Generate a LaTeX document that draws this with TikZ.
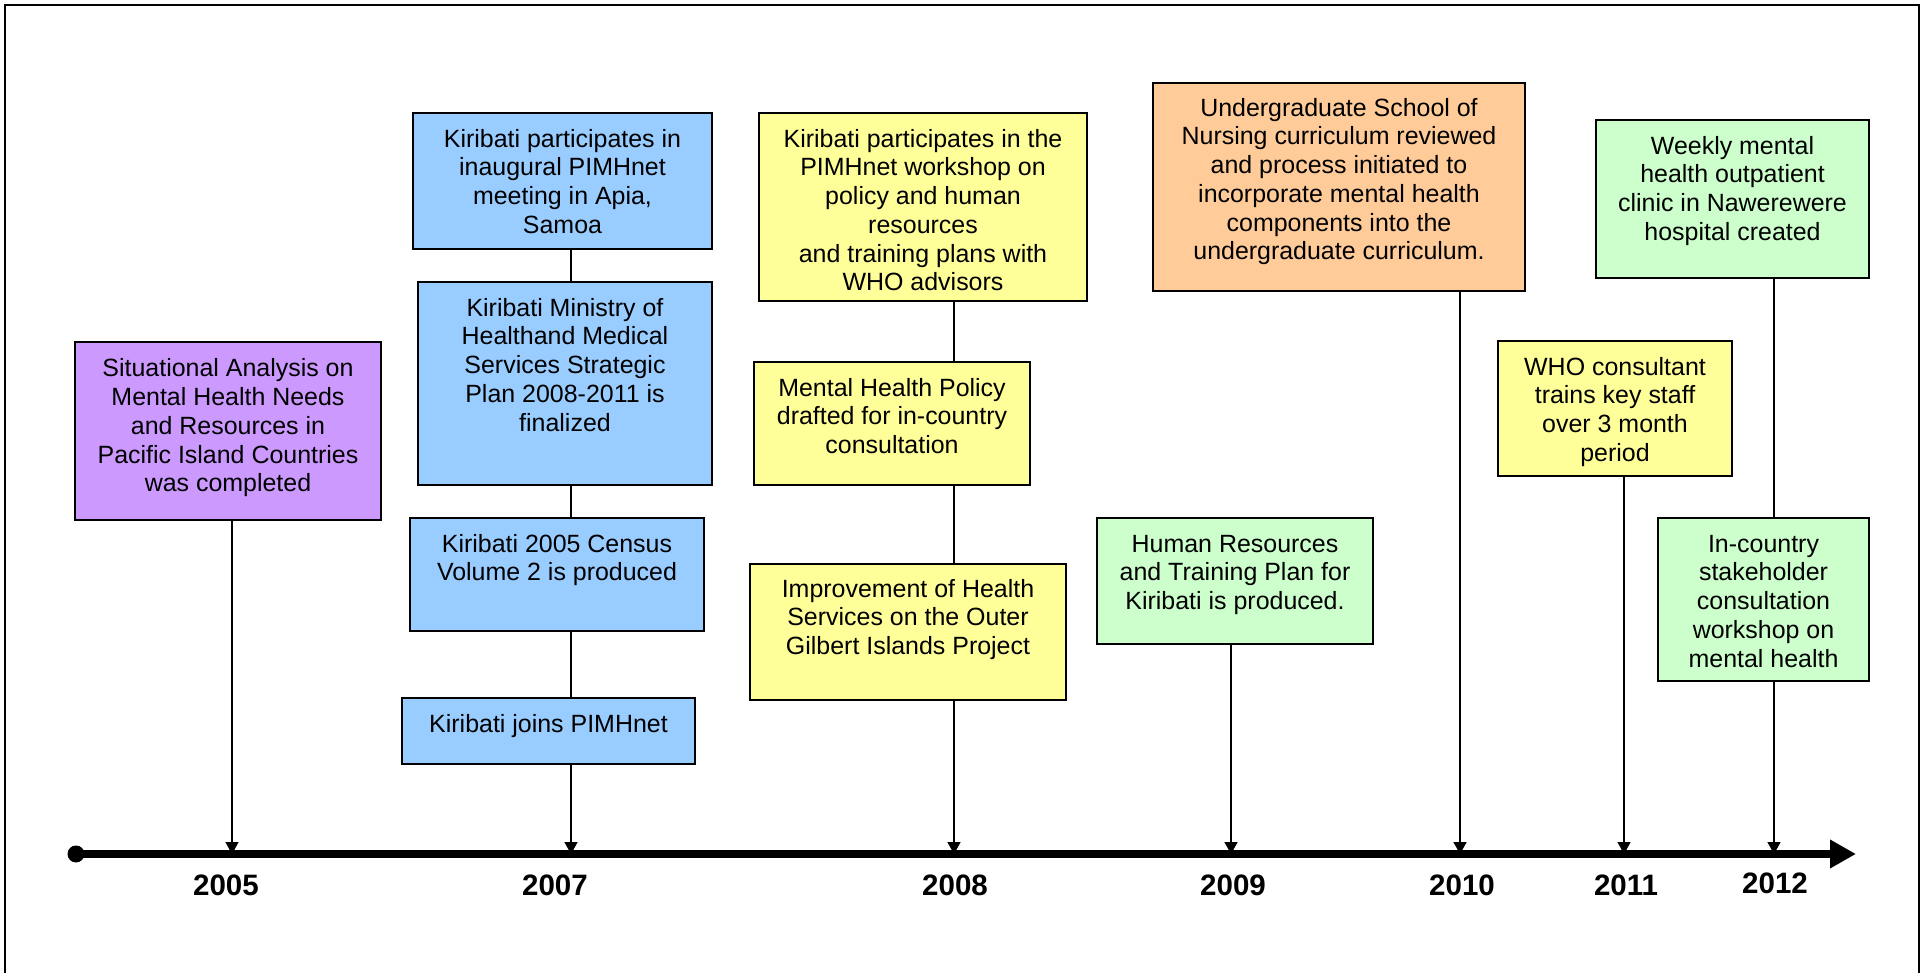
\documentclass[tikz,border=0pt]{standalone}
\usepackage{fontspec}
\setmainfont{Liberation Sans}
\usetikzlibrary{arrows.meta,fit}

\definecolor{evblue}{HTML}{99CCFF}
\definecolor{evpurple}{HTML}{CC99FF}
\definecolor{evyellow}{HTML}{FFFF99}
\definecolor{evorange}{HTML}{FFCC99}
\definecolor{evgreen}{HTML}{CCFFCC}

% multi-line event text whose reference point is the baseline of its first line
\newcommand{\evtext}[1]{\begin{tabular}[t]{@{}c@{}}#1\end{tabular}}

\begin{document}
\begin{tikzpicture}[x=0.1mm, y=-0.1mm,
  evbox/.style={draw=black, line width=0.45pt, inner sep=0pt},
  evlabel/.style={anchor=base, inner sep=0pt, font=\fontsize{7.1}{8.18}\selectfont},
  link/.style={line width=0.4pt},
  tolink/.style={line width=0.4pt, -{Triangle[length=3.4pt, width=3.7pt]}},
  yearlabel/.style={anchor=base, inner sep=0pt, font=\fontsize{8.4}{10}\selectfont\bfseries},
  axisline/.style={line width=2pt, -{Triangle[length=7.4pt, width=7.7pt]}}
]
\clip (0,0) rectangle (1927,973);
\fill[white] (0,0) rectangle (1927,973);

% outer frame
\draw[line width=0.5pt] (5,5) rectangle (1919,1000);

% time axis
\node[circle, fill=black, inner sep=0pt, minimum size=1.7mm] (start) at (76,854) {};
\coordinate (axisend) at (1856,854);
\draw[axisline] (start.center) -- (axisend);

\coordinate (t2005) at (232,854);
\coordinate (t2007) at (571,854);
\coordinate (t2008) at (954,854);
\coordinate (t2009) at (1231,854);
\coordinate (t2010) at (1460,854);
\coordinate (t2011) at (1624,854);
\coordinate (t2012) at (1774,854);

\node[yearlabel] (y2005) at (226,896) {2005};
\node[yearlabel] (y2007) at (555,896) {2007};
\node[yearlabel] (y2008) at (955,896) {2008};
\node[yearlabel] (y2009) at (1233,896) {2009};
\node[yearlabel] (y2010) at (1462,896) {2010};
\node[yearlabel] (y2011) at (1626,896) {2011};
\node[yearlabel] (y2012) at (1775,893) {2012};

% event boxes
\node[evbox, fill=evpurple, line width=0.6pt, fit={(75,342) (381,520)}] (p1) {};
\node[evbox, fill=evblue, fit={(413,113) (712,249)}] (b1) {};
\node[evbox, fill=evblue, fit={(418,282) (712,485)}] (b2) {};
\node[evbox, fill=evblue, fit={(410,518) (704,631)}] (b3) {};
\node[evbox, fill=evblue, fit={(402,698) (695,764)}] (b4) {};
\node[evbox, fill=evyellow, fit={(759,113) (1087,301)}] (w1) {};
\node[evbox, fill=evyellow, fit={(754,362) (1030,485)}] (w2) {};
\node[evbox, fill=evyellow, fit={(750,564) (1066,700)}] (w3) {};
\node[evbox, fill=evorange, fit={(1153,83) (1525,291)}] (o1) {};
\node[evbox, fill=evgreen, fit={(1097,518) (1373,644)}] (g1) {};
\node[evbox, fill=evyellow, fit={(1498,341) (1732,476)}] (w4) {};
\node[evbox, fill=evgreen, fit={(1596,120) (1869,278)}] (g2) {};
\node[evbox, fill=evgreen, fit={(1658,518) (1869,681)}] (g3) {};

% event texts
\node[evlabel] (p1t) at ([yshift=-3.6mm]p1.north) {\evtext{Situational Analysis on\\Mental Health Needs\\and Resources in\\Pacific Island Countries\\was completed}};
\node[evlabel] (b1t) at ([yshift=-3.5mm]b1.north) {\evtext{Kiribati participates in\\inaugural PIMHnet\\meeting in Apia,\\Samoa}};
\node[evlabel] (b2t) at ([yshift=-3.5mm]b2.north) {\evtext{Kiribati Ministry of\\Healthand Medical\\Services Strategic\\Plan 2008-2011 is\\finalized}};
\node[evlabel] (b3t) at ([yshift=-3.5mm]b3.north) {\evtext{Kiribati 2005 Census\\Volume 2 is produced}};
\node[evlabel] (b4t) at ([yshift=-3.5mm]b4.north) {\evtext{Kiribati joins PIMHnet}};
\node[evlabel] (w1t) at ([yshift=-3.5mm]w1.north) {\evtext{Kiribati participates in the\\PIMHnet workshop on\\policy and human\\resources\\and training plans with\\WHO advisors}};
\node[evlabel] (w2t) at ([yshift=-3.5mm]w2.north) {\evtext{Mental Health Policy\\drafted for in-country\\consultation}};
\node[evlabel] (w3t) at ([yshift=-3.4mm]w3.north) {\evtext{Improvement of Health\\Services on the Outer\\Gilbert Islands Project}};
\node[evlabel] (o1t) at ([yshift=-3.4mm]o1.north) {\evtext{Undergraduate School of\\Nursing curriculum reviewed\\and process initiated to\\incorporate mental health\\components into the\\undergraduate curriculum.}};
\node[evlabel] (g1t) at ([yshift=-3.5mm]g1.north) {\evtext{Human Resources\\and Training Plan for\\Kiribati is produced.}};
\node[evlabel] (w4t) at ([yshift=-3.5mm]w4.north) {\evtext{WHO consultant\\trains key staff\\over 3 month\\period}};
\node[evlabel] (g2t) at ([yshift=-3.5mm]g2.north) {\evtext{Weekly mental\\health outpatient\\clinic in Nawerewere\\hospital created}};
\node[evlabel] (g3t) at ([yshift=-3.5mm]g3.north) {\evtext{In-country\\stakeholder\\consultation\\workshop on\\mental health}};

% connectors
\draw[tolink] (p1.south -| t2005) -- (t2005);

\draw[link] (b1.south -| t2007) -- (b2.north -| t2007);
\draw[link] (b2.south -| t2007) -- (b3.north -| t2007);
\draw[link] (b3.south -| t2007) -- (b4.north -| t2007);
\draw[tolink] (b4.south -| t2007) -- (t2007);

\draw[link] (w1.south -| t2008) -- (w2.north -| t2008);
\draw[link] (w2.south -| t2008) -- (w3.north -| t2008);
\draw[tolink] (w3.south -| t2008) -- (t2008);

\draw[tolink] (g1.south -| t2009) -- (t2009);
\draw[tolink] (o1.south -| t2010) -- (t2010);
\draw[tolink] (w4.south -| t2011) -- (t2011);

\draw[link] (g2.south -| t2012) -- (g3.north -| t2012);
\draw[tolink] (g3.south -| t2012) -- (t2012);
\end{tikzpicture}
\end{document}
